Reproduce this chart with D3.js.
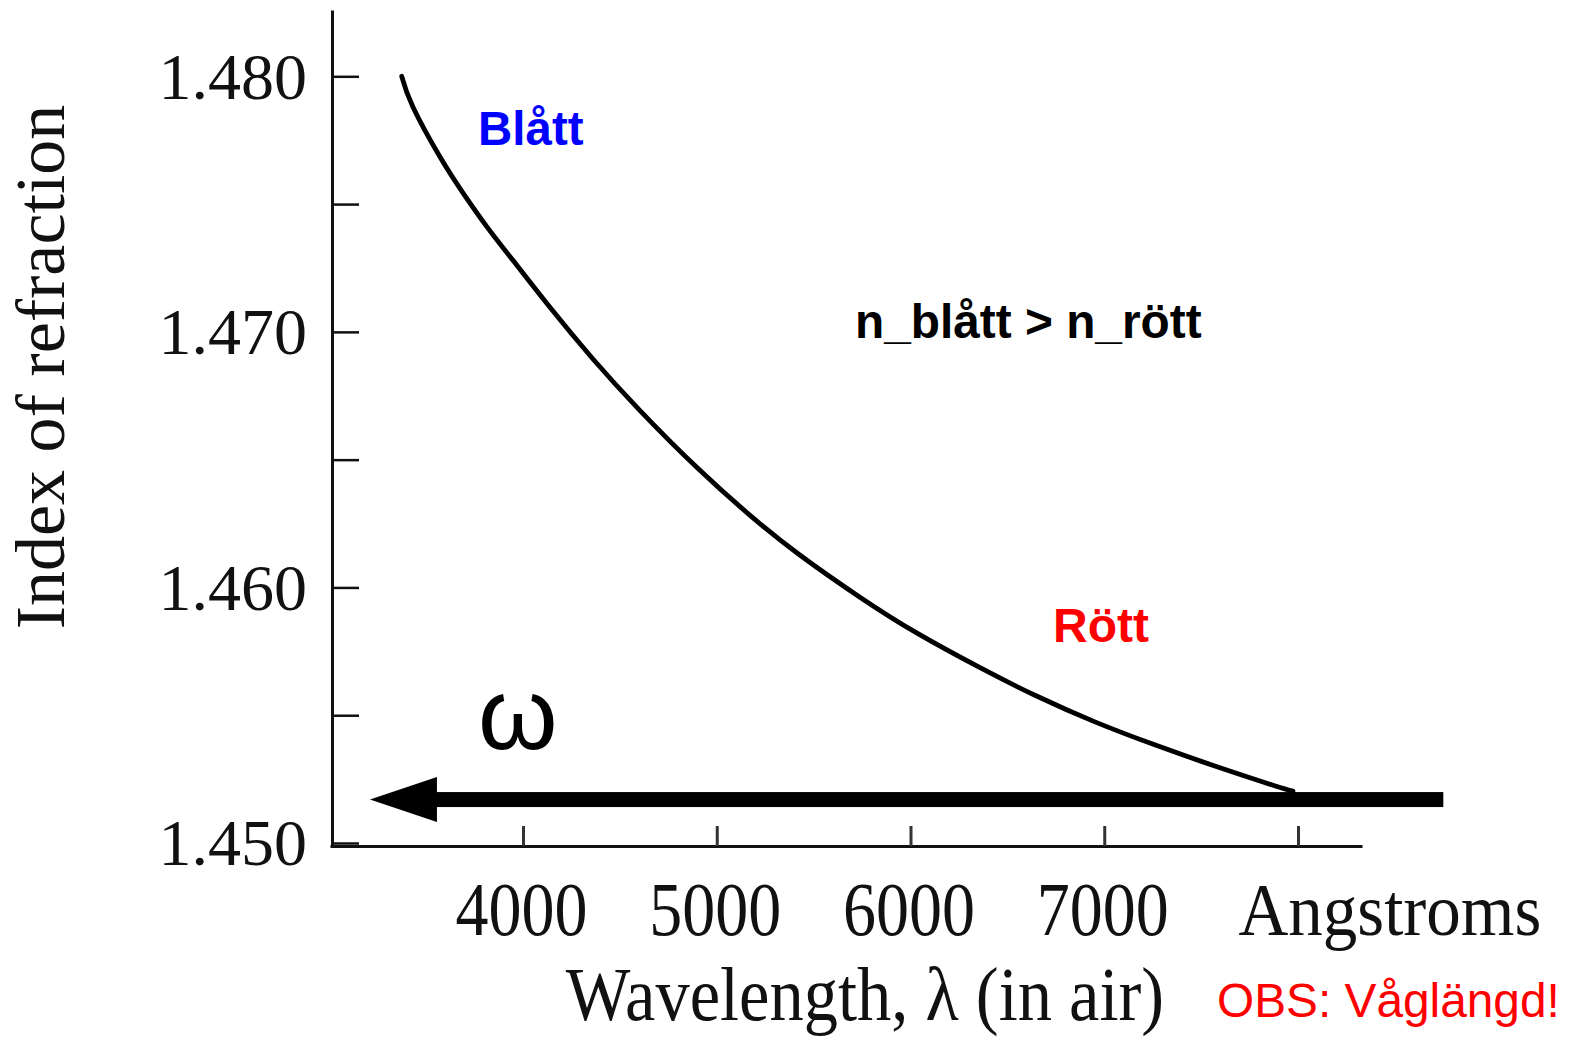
<!DOCTYPE html>
<html>
<head>
<meta charset="utf-8">
<script src="https://cdn.jsdelivr.net/npm/d3@7"></script>
<style>
html,body{margin:0;padding:0;background:#fff;}
svg{display:block;}
</style>
</head>
<body>
<svg id="chart" width="1573" height="1038"></svg>
<script>
// ---- data ----
const wavelength = [3374, 3432, 3572, 3690, 3814, 3948, 4139, 4361, 4604, 4898, 5172, 5425, 5739, 6034, 6359, 6648, 6952, 7257, 7567, 7871, 7974];
const refrIndex  = [1.48000, 1.47880, 1.47684, 1.47544, 1.47411, 1.47280, 1.47096, 1.46894, 1.46692, 1.46469, 1.46282, 1.46129, 1.45962, 1.45821, 1.45686, 1.45576, 1.45474, 1.45385, 1.45302, 1.45226, 1.45203];
const xTickValues = [4000, 5000, 6000, 7000, 8000];
const xTickLabels = ["4000", "5000", "6000", "7000", "Angstroms"];
const yTickValues = [1.450, 1.455, 1.460, 1.465, 1.470, 1.475, 1.480];
const yTickLabels = ["1.450", "", "1.460", "", "1.470", "", "1.480"];
const arrowLambda = [8750, 3210];   // arrow from long to short wavelength
const arrowIndex = 1.4517;

const svg = d3.select("#chart");
const serif = "'Liberation Serif','Times New Roman',serif";
const sans = "'Liberation Sans',Arial,sans-serif";

const x = d3.scaleLinear().domain([4000, 8000]).range([523, 1298]);
const y = d3.scaleLinear().domain([1.450, 1.480]).range([843, 76.3]);

// axis scales with extended domain (same mapping)
const xAx = x.copy().domain([x.invert(330), x.invert(1362)]).range([330, 1362]);
const yAx = y.copy().domain([y.invert(846), y.invert(10)]).range([846, 10]);

// Y axis
const yAxis = d3.axisLeft(yAx)
  .tickValues(yTickValues)
  .tickFormat((d, i) => yTickLabels[i])
  .tickSizeInner(-27).tickSizeOuter(0).tickPadding(25);
const gy = svg.append("g").attr("transform", "translate(332,0)").call(yAxis);
gy.select(".domain").attr("stroke", "#111").attr("stroke-width", 3);
gy.selectAll(".tick line").attr("stroke", "#111").attr("stroke-width", 2.5);
gy.selectAll(".tick text").attr("font-family", serif).attr("font-size", 66).attr("fill", "#111")
  .attr("dy", "0.33em");

// X axis
const last = xTickValues.length - 1;
const xAxis = d3.axisBottom(xAx)
  .tickValues(xTickValues)
  .tickFormat((d, i) => xTickLabels[i])
  .tickSizeInner(-20).tickSizeOuter(0).tickPadding(0);
const gx = svg.append("g").attr("transform", "translate(0,846)").call(xAxis);
gx.select(".domain").attr("stroke", "#111").attr("stroke-width", 3);
gx.selectAll(".tick line").attr("stroke", "#333").attr("stroke-width", 3);
gx.selectAll(".tick text")
  .attr("font-family", serif).attr("fill", "#111")
  .attr("font-size", (d, i) => i === last ? 69 : 66)
  .attr("y", 0).attr("dy", 0)
  .attr("text-anchor", (d, i) => i === last ? "start" : "middle")
  .attr("x", (d, i) => i === last ? -60 : -2)
  .attr("transform", (d, i) => i === last ? "translate(0,89) scale(1,1.06)" : "translate(0,89) scale(1,1.15)");

// axis titles
svg.append("text")
  .attr("transform", "translate(64,367) rotate(-90)")
  .attr("text-anchor", "middle")
  .attr("font-family", serif).attr("font-size", 70).attr("fill", "#111")
  .text("Index of refraction");

svg.append("text")
  .attr("transform", "translate(865,1020) scale(1,1.1)")
  .attr("text-anchor", "middle")
  .attr("font-family", serif).attr("font-size", 68.5).attr("fill", "#111")
  .text("Wavelength, λ (in air)");

// curve
const pts = wavelength.map((w, i) => [w, refrIndex[i]]);
svg.append("path")
  .datum(pts)
  .attr("fill", "none").attr("stroke", "#000").attr("stroke-width", 4.8)
  .attr("stroke-linecap", "round")
  .attr("d", d3.line().x(d => x(d[0])).y(d => y(d[1])).curve(d3.curveNatural));

// arrow (omega increases toward short wavelengths)
const ay = y(arrowIndex);
const ax0 = x(arrowLambda[0]), ax1 = x(arrowLambda[1]);
const headLen = 67, headHalf = 22.5;
svg.append("rect")
  .attr("x", ax1 + headLen - 2).attr("y", ay - 7.5)
  .attr("width", ax0 - ax1 - headLen + 2).attr("height", 15)
  .attr("fill", "#000");
svg.append("path")
  .attr("d", `M${ax1},${ay} L${ax1 + headLen},${ay - headHalf} L${ax1 + headLen},${ay + headHalf} Z`)
  .attr("fill", "#000");

// annotations
svg.append("text").attr("x", 478).attr("y", 145)
  .attr("font-family", sans).attr("font-weight", "bold").attr("font-size", 47.5).attr("fill", "#0000ff")
  .text("Blått");
svg.append("text").attr("x", 855).attr("y", 338)
  .attr("font-family", sans).attr("font-weight", "bold").attr("font-size", 47.8).attr("fill", "#000")
  .text("n_blått > n_rött");
svg.append("text").attr("x", 1053).attr("y", 642)
  .attr("font-family", sans).attr("font-weight", "bold").attr("font-size", 48).attr("fill", "#ff0000")
  .text("Rött");
svg.append("text").attr("x", 478).attr("y", 749)
  .attr("font-family", sans).attr("font-size", 102).attr("fill", "#000")
  .text("ω");
svg.append("text").attr("x", 1217).attr("y", 1017)
  .attr("font-family", sans).attr("font-size", 47.8).attr("fill", "#ff0000")
  .text("OBS: Våglängd!");
</script>
</body>
</html>
